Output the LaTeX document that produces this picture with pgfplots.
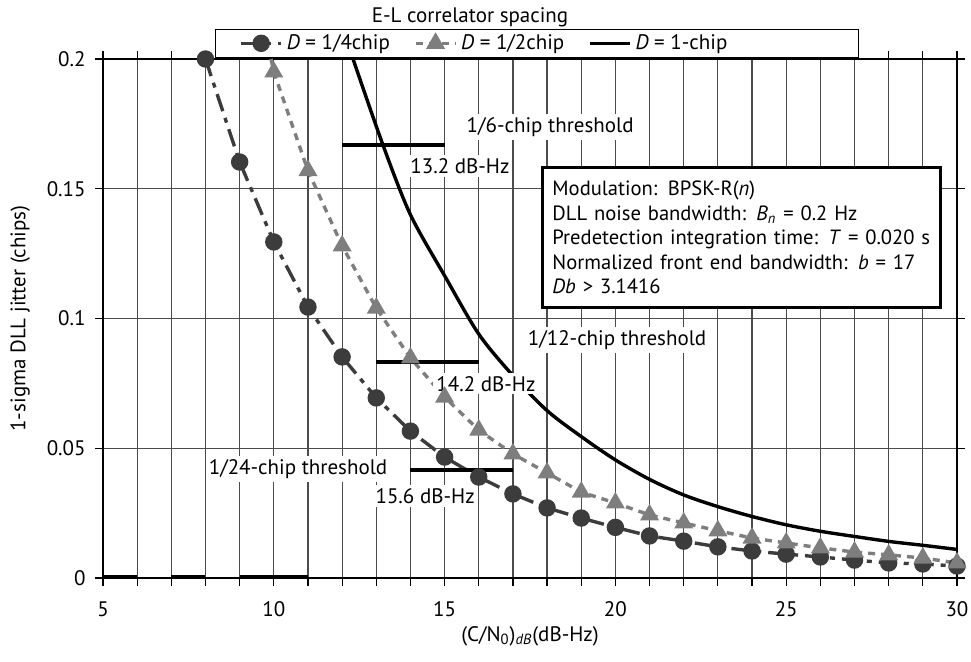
\documentclass[border=0pt]{standalone}
\usepackage{fontspec}
\setmainfont{PT Sans}
\usepackage{pgfplots}
\pgfplotsset{compat=1.18}
\definecolor{cq}{HTML}{3C3C3C}
\definecolor{ch}{HTML}{7E7E7E}
\begin{document}
\fontsize{10.5pt}{12.5pt}\selectfont
\begin{tikzpicture}
\useasboundingbox (-51.5pt,-42pt) rectangle (434pt,289pt);
\begin{axis}[
  scale only axis, width=427pt, height=259.5pt,
  xmin=5, xmax=30, ymin=0, ymax=0.2,
  xtick={5,10,15,20,25,30},
  minor xtick={5,...,30},
  ytick={0,0.05,0.1,0.15,0.2},
  yticklabels={0,0.05,0.1,0.15,0.2},
  /pgf/number format/assume math mode=true,
  grid=both,
  major grid style={black!70, line width=0.6pt},
  minor grid style={black!70, line width=0.6pt},
  tick align=outside,
  major tick length=4pt, minor tick length=4pt,
  tick style={black, line width=0.6pt},
  axis line style={line width=1.2pt},
  xticklabel style={yshift=-4pt},
  yticklabel style={xshift=-1pt},
  xlabel={(C/N\textsubscript{0})\textsubscript{\textit{dB}}(dB-Hz)},
  ylabel={1-sigma DLL jitter (chips)},
  xlabel style={at={(axis description cs:0.5,-0.112)}, anchor=center},
  ylabel style={at={(axis description cs:-0.097,0.5)}, anchor=center},
  title={E-L correlator spacing},
  title style={at={(axis description cs:0.4298,1.058)}, anchor=center},
  legend columns=3,
  legend style={at={(axis description cs:0.1311,1.002)}, anchor=south west,
    draw=black, line width=0.6pt, inner xsep=12pt, inner ysep=0.5pt,
    /tikz/every even column/.append style={column sep=10pt}},
  legend cell align=left,
  legend image code/.code={\draw[mark repeat=2,mark phase=2] plot coordinates {(0cm,0cm) (0.35cm,0cm) (0.7cm,0cm)};},
]
% 1/4 chip
\addplot[cq, line width=1.7pt, dash pattern=on 9pt off 3.5pt on 2.5pt off 3.5pt,
  mark=*, mark size=3.5pt, mark options={solid, fill=cq, draw=cq}]
  coordinates {
  (8,0.200) (9,0.1603) (10,0.1295) (11,0.1044) (12,0.0852) (13,0.0694)
  (14,0.0566) (15,0.0466) (16,0.0389) (17,0.0324) (18,0.0270) (19,0.0231)
  (20,0.0195) (21,0.0162) (22,0.0142) (23,0.0120) (24,0.0104) (25,0.0092)
  (26,0.0081) (27,0.0069) (28,0.0058) (29,0.0054) (30,0.0046)};
\addlegendentry{\textit{D} = 1/4chip}
% 1/2 chip
\addplot[ch, line width=1.7pt, dash pattern=on 3.5pt off 3pt,
  mark=triangle*, mark size=3.8pt, mark options={solid, fill=ch, draw=ch}]
  coordinates {
  (10,0.195) (11,0.157) (12,0.128) (13,0.104) (14,0.0848) (15,0.0697)
  (16,0.0570) (17,0.0478) (18,0.0405) (19,0.0331) (20,0.0289) (21,0.0243)
  (22,0.0212) (23,0.0182) (24,0.0154) (25,0.0135) (26,0.0116) (27,0.0100)
  (28,0.0089) (29,0.0077) (30,0.0058)};
\addlegendentry{\textit{D} = 1/2chip}
% 1 chip
\addplot[black, line width=1.7pt, smooth] coordinates {
  (12.32,0.200) (13.2,0.1667) (14,0.140) (15,0.1165) (16,0.094) (17,0.078)
  (18,0.0645) (19,0.0545) (20,0.0455) (21,0.038) (22,0.032) (23,0.0275)
  (24,0.0237) (25,0.0205) (26,0.0180) (27,0.0160) (28,0.0141) (29,0.0126)
  (30,0.0110)};
\addlegendentry{\makebox[97.5pt][l]{\textit{D} = 1-chip}}
% extension of 1/2 chip line to top
\addplot[ch, line width=1.7pt, dash pattern=on 3.5pt off 3pt, forget plot]
  coordinates {(9.92,0.2) (10,0.195)};
% threshold segments
\addplot[black, line width=2pt, forget plot] coordinates {(12,0.16667) (15,0.16667)};
\addplot[black, line width=2pt, forget plot] coordinates {(13,0.08333) (16,0.08333)};
\addplot[black, line width=2pt, forget plot] coordinates {(14,0.04167) (17,0.04167)};
% thick segments at zero
\addplot[black, line width=2pt, forget plot, unbounded coords=jump] coordinates {
  (5,0.0005) (6,0.0005) (6,nan) (7,0.0005) (8,0.0005) (8,nan) (9,0.0005) (11,0.0005)};
% labels
\node[fill=white, inner sep=1.5pt] at (axis cs:18.09,0.1738) {1/6-chip threshold};
\node[fill=white, inner sep=1.5pt] at (axis cs:15.45,0.1588) {13.2 dB-Hz};
\node[fill=white, inner sep=1.5pt] at (axis cs:20.05,0.0917) {1/12-chip threshold};
\node[fill=white, inner sep=1.5pt] at (axis cs:16.21,0.0748) {14.2 dB-Hz};
\node[fill=white, inner sep=1.5pt] at (axis cs:10.71,0.0420) {1/24-chip threshold};
\node[fill=white, inner sep=1.5pt] at (axis cs:14.43,0.0316) {15.6 dB-Hz};
\node[draw=black, line width=1.5pt, fill=white, anchor=north west,
  align=left, text width=189pt, inner xsep=5pt, minimum height=70pt,
  font=\fontsize{10.3pt}{12.25pt}\selectfont]
  at (axis cs:17.82,0.1588) {Modulation: BPSK-R(\textit{n})\\
  DLL noise bandwidth: \textit{B}\textsubscript{\textit{n}} = 0.2 Hz\\
  Predetection integration time: \textit{T} = 0.020 s\\
  Normalized front end bandwidth: \textit{b} = 17\\
  \textit{Db} > 3.1416};
\end{axis}
\end{tikzpicture}
\end{document}
